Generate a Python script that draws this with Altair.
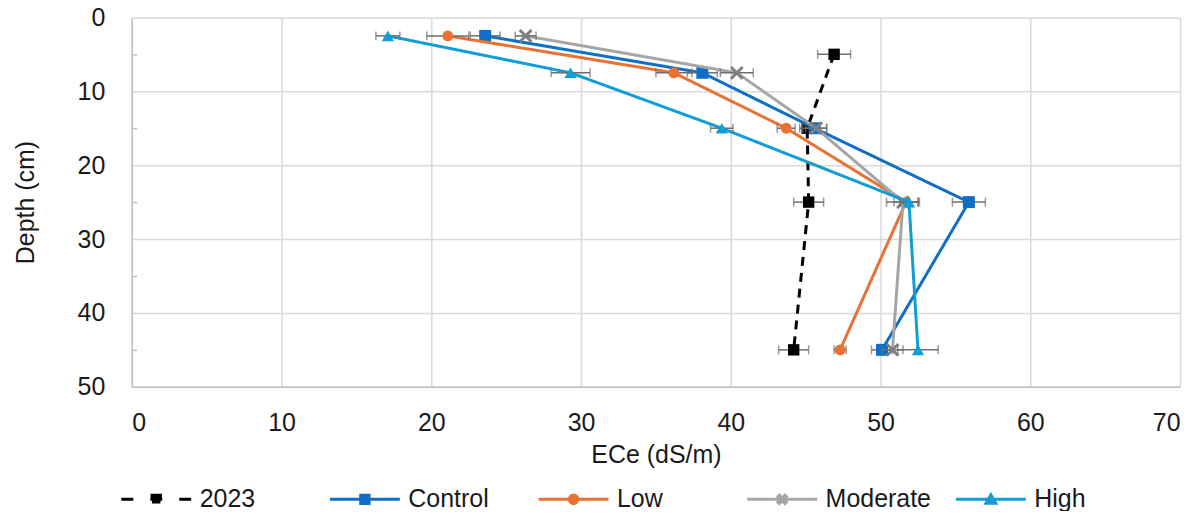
import altair as alt
import pandas as pd

# ---------------- data ----------------
series_names = ["2023", "Control", "Low", "Moderate", "High"]

depth_2023 = [5, 15, 25, 45]
depth_trt = [2.5, 7.5, 15, 25, 45]

ece_2023 = [46.9, 45.1, 45.2, 44.2]
err_2023 = [1.1, 0.5, 1.0, 1.0]

ece_control = [23.6, 38.1, 45.6, 55.9, 50.1]
err_control = [1.0, 1.0, 0.8, 1.1, 0.7]

ece_low = [21.1, 36.2, 43.7, 51.7, 47.3]
err_low = [1.4, 1.2, 0.6, 0.8, 0.4]

ece_moderate = [26.3, 40.4, 45.7, 51.5, 50.8]
err_moderate = [0.7, 1.1, 0.7, 1.1, 0.7]

ece_high = [17.1, 29.3, 39.4, 51.9, 52.5]
err_high = [0.8, 1.3, 0.75, 0.6, 1.35]

x_ticks = [0, 10, 20, 30, 40, 50, 60, 70]
y_ticks = [0, 10, 20, 30, 40, 50]
y_minor = [5, 15, 25, 35, 45]

# ---------------- table ----------------
rows = []
for name, depths, vals, errs in [
    ("2023", depth_2023, ece_2023, err_2023),
    ("Control", depth_trt, ece_control, err_control),
    ("Low", depth_trt, ece_low, err_low),
    ("Moderate", depth_trt, ece_moderate, err_moderate),
    ("High", depth_trt, ece_high, err_high),
]:
    for i, (d, v, e) in enumerate(zip(depths, vals, errs)):
        rows.append(dict(series=name, depth=d, ece=v, lo=v - e, hi=v + e, k=i))
df = pd.DataFrame(rows)
caps = pd.concat([df.assign(cap=df["lo"]), df.assign(cap=df["hi"])], ignore_index=True)

# ---------------- styles ----------------
W, H = 1050, 370
FONT = "Liberation Sans"
line_color = {"2023": "#000000", "Control": "#0F6FC6", "Low": "#E97132",
              "Moderate": "#A6A6A6", "High": "#0F9ED5"}
marker_color = {"2023": "#000000", "Control": "#0F6FC6", "Low": "#E97132",
                "Moderate": "#7F7F7F", "High": "#0F9ED5"}
X_PATH = ("M-1,-0.7L-0.7,-1L0,-0.3L0.7,-1L1,-0.7L0.3,0L1,0.7L0.7,1L0,0.3"
          "L-0.7,1L-1,0.7L-0.3,0Z")
plot_shape = {"2023": ("square", 130), "Control": ("square", 144),
              "Low": ("circle", 120), "Moderate": (X_PATH, 190),
              "High": ("triangle-up", 150)}
legend_paths = [
    "M-1,0H1M-0.12,-0.12H0.12V0.12H-0.12Z",
    "M-1,0H1M-0.12,-0.12H0.12V0.12H-0.12Z",
    "M-1,0H1M-0.12,0A0.12,0.12,0,1,0,0.12,0A0.12,0.12,0,1,0,-0.12,0Z",
    ("M-1,0H1M-0.12,-0.08L-0.08,-0.12L0,-0.04L0.08,-0.12L0.12,-0.08L0.04,0"
     "L0.12,0.08L0.08,0.12L0,0.04L-0.08,0.12L-0.12,0.08L-0.04,0Z"),
    "M-1,0H1M0,-0.13L0.14,0.11L-0.14,0.11Z",
]
legend_dash = [[12, 17], [1, 0], [1, 0], [1, 0], [1, 0]]
ERR_COLOR = "#6E6E6E"

x_scale = alt.Scale(domain=[0, 70], nice=False, zero=False)
y_scale = alt.Scale(domain=[0, 50], nice=False, reverse=True, zero=False)

x_axis = alt.Axis(values=x_ticks, grid=True, ticks=False, title="ECe (dS/m)",
                  labelPadding=24, titlePadding=7)
y_axis_main = alt.Axis(orient="left", values=y_ticks, grid=True, ticks=False,
                       title="Depth (cm)", labelPadding=27, titlePadding=39)
y_axis_minor = alt.Axis(orient="right", offset=-W, values=y_minor, labels=False,
                        domain=False, grid=False, ticks=True, tickSize=5,
                        tickColor="#BFBFBF", tickWidth=1.5, title=None)


def xenc(field="ece"):
    return alt.X(f"{field}:Q", scale=x_scale, axis=x_axis)


def yenc(axis=None):
    return alt.Y("depth:Q", scale=y_scale, axis=axis)


layers = []
first = True
for s in series_names:
    base = alt.Chart(df).transform_filter(alt.datum.series == s)
    dash = [9, 7] if s == "2023" else [1, 0]
    line = base.mark_line(color=line_color[s], strokeWidth=3, strokeDash=dash).encode(
        x=xenc(), y=yenc(y_axis_main if first else None), order="k:Q")
    first = False
    err = base.mark_rule(color=ERR_COLOR, strokeWidth=1.5).encode(
        x=xenc("lo"), x2="hi:Q", y=yenc())
    cap = alt.Chart(caps).transform_filter(alt.datum.series == s).mark_tick(
        orient="vertical", color=ERR_COLOR, thickness=1.5, size=9).encode(
        x=xenc("cap"), y=yenc())
    shp, sz = plot_shape[s]
    pts = base.mark_point(filled=True, shape=shp, size=sz, opacity=1,
                          color=marker_color[s]).encode(x=xenc(), y=yenc())
    layers += [line, err, cap, pts]

leg = alt.Legend(title=None, orient="none", legendX=-12, legendY=446,
                 direction="horizontal", gridAlign="all", columnPadding=18,
                 symbolSize=4900, symbolStrokeWidth=3, labelOffset=7,
                 labelFontSize=25, labelFont=FONT, labelColor="#1a1a1a",
                 labelLimit=300)

legend_layer = alt.Chart(df).transform_filter("false").mark_point(
    filled=True, opacity=1).encode(
    x=xenc(),
    y=yenc(y_axis_minor),
    fill=alt.Fill("series:N", scale=alt.Scale(domain=series_names,
                  range=[marker_color[s] for s in series_names]), legend=leg),
    stroke=alt.Stroke("series:N", scale=alt.Scale(domain=series_names,
                      range=[line_color[s] for s in series_names]), legend=leg),
    shape=alt.Shape("series:N", scale=alt.Scale(domain=series_names,
                    range=legend_paths), legend=leg),
    strokeDash=alt.StrokeDash("series:N", scale=alt.Scale(domain=series_names,
                              range=legend_dash), legend=leg),
)
layers.append(legend_layer)

chart = alt.layer(*layers).resolve_axis(y="independent").properties(
    width=W, height=H,
    autosize=alt.AutoSizeParams(type="none"),
    padding={"left": 124, "top": 9, "right": 14, "bottom": 124},
).configure_view(stroke=None).configure_axis(
    labelFont=FONT, titleFont=FONT, labelFontSize=25, titleFontSize=25,
    titleFontWeight="normal", labelColor="#1a1a1a", titleColor="#1a1a1a",
    gridColor="#D9D9D9", gridWidth=1.5, domainColor="#BFBFBF", domainWidth=1.5,
)

chart.save("out.html", embed_options={"renderer": "svg", "actions": False})
